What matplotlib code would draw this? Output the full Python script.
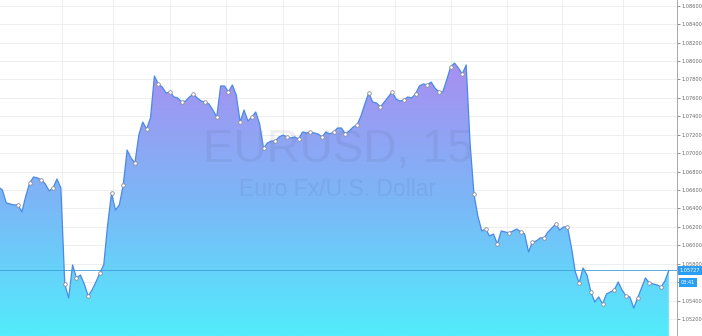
import numpy as np
import matplotlib
matplotlib.use('Agg')
import matplotlib.pyplot as plt
from matplotlib.colors import LinearSegmentedColormap
from matplotlib.path import Path

# ---------------- data ----------------
prices = [
    1.06633, 1.06600, 1.06459, 1.06449, 1.06438, 1.06438, 1.06362, 1.06535, 1.06676, 1.06742,
    1.06731, 1.06709, 1.06666, 1.06590, 1.06622, 1.06720, 1.06622, 1.05581, 1.05429, 1.05787,
    1.05646, 1.05678, 1.05581, 1.05450, 1.05515, 1.05602, 1.05700, 1.05787, 1.06221, 1.06568,
    1.06383, 1.06438, 1.06655, 1.07034, 1.06948, 1.06893, 1.07197, 1.07338, 1.07262, 1.07382,
    1.07837, 1.07751, 1.07718, 1.07653, 1.07664, 1.07610, 1.07599, 1.07555, 1.07566, 1.07610,
    1.07642, 1.07599, 1.07566, 1.07555, 1.07534, 1.07468, 1.07393, 1.07729, 1.07729, 1.07664,
    1.07740, 1.07631, 1.07338, 1.07468, 1.07349, 1.07393, 1.07447, 1.07317, 1.07056, 1.07110,
    1.07132, 1.07132, 1.07176, 1.07197, 1.07176, 1.07165, 1.07176, 1.07154, 1.07230, 1.07219,
    1.07230, 1.07219, 1.07208, 1.07176, 1.07230, 1.07208, 1.07230, 1.07273, 1.07273, 1.07208,
    1.07241, 1.07284, 1.07306, 1.07403, 1.07534, 1.07653, 1.07555, 1.07544, 1.07501, 1.07555,
    1.07610, 1.07664, 1.07588, 1.07566, 1.07577, 1.07610, 1.07599, 1.07642, 1.07729, 1.07751,
    1.07740, 1.07772, 1.07707, 1.07664, 1.07664, 1.07794, 1.07935, 1.07978, 1.07924, 1.07859,
    1.07957, 1.07110, 1.06557, 1.06318, 1.06156, 1.06177, 1.06101, 1.06123, 1.06015, 1.06156,
    1.06145, 1.06134, 1.06156, 1.06177, 1.06145, 1.06123, 1.05928, 1.06036, 1.06047, 1.06080,
    1.06080, 1.06145, 1.06188, 1.06232, 1.06166, 1.06199, 1.06199, 1.05982, 1.05711, 1.05591,
    1.05754, 1.05678, 1.05494, 1.05385, 1.05440, 1.05364, 1.05472, 1.05494, 1.05515, 1.05602,
    1.05515, 1.05450, 1.05440, 1.05320, 1.05429, 1.05537, 1.05646, 1.05591, 1.05581, 1.05570,
    1.05548, 1.05613, 1.05727,
]
marker_start = 5
marker_step = 3
last_price = 1.05727
last_price_label = "1.05727"
countdown_label = "03:41"
symbol_label = "EURUSD, 15"
description_label = "Euro Fx/U.S. Dollar"
price_ticks = [1.05200, 1.05400, 1.05600, 1.05800, 1.06000, 1.06200, 1.06400, 1.06600, 1.06800,
               1.07000, 1.07200, 1.07400, 1.07600, 1.07800, 1.08000, 1.08200, 1.08400, 1.08600]
time_grid_bars = [16.3, 29.4, 44.0, 58.4, 73.0, 87.1, 101.7, 116.1, 130.5, 144.6, 160.3]

# ---------------- figure ----------------
W, H = 702, 336
fig = plt.figure(figsize=(W / 100, H / 100), dpi=100)
fig.patch.set_facecolor('white')
ax = fig.add_axes([0, 0, 677 / W, 1])
ax.set_facecolor('white')

x = np.arange(len(prices))
y = np.array(prices)
xmin, xmax = 0.38, 174.1
ybot, ytop = 1.05016, 1.08662
ax.set_xlim(xmin, xmax)
ax.set_ylim(ybot, ytop)

# grid
for t in price_ticks:
    ax.axhline(t, color='#ebebeb', lw=0.6, zorder=0)
for g in time_grid_bars:
    ax.axvline(g, color='#ebebeb', lw=0.6, zorder=0)

# gradient area
cmap = LinearSegmentedColormap.from_list('tv', [(0.0, '#52ecfc'), (0.45, '#7ab8f7'), (1.0, '#ad8af0')])
grad = np.linspace(0, 1, 256).reshape(-1, 1)
poly = ax.fill_between(x, y, ybot, color='none', lw=0)
im = ax.imshow(grad, extent=[xmin, xmax, ybot, 1.0815], origin='lower', aspect='auto',
               cmap=cmap, zorder=1, interpolation='bilinear')
verts = np.vstack([np.column_stack([x, y]), [[x[-1], ybot], [x[0], ybot]]])
im.set_clip_path(Path(verts), transform=ax.transData)

ax.plot(x, y, color='#4a8ae6', lw=0.9, zorder=3)
ax.plot(x[marker_start::marker_step], y[marker_start::marker_step], 'o', ms=2.6,
        mfc='white', mec='#8a8a9a', mew=0.6, zorder=4)

# watermark
ax.text(0.499, 0.555, symbol_label, transform=ax.transAxes, ha='center', va='center',
        fontsize=33, color='#3c3c64', alpha=0.08, family='Liberation Sans', zorder=2)
ax.text(0.499, 0.435, description_label, transform=ax.transAxes, ha='center', va='center',
        fontsize=16.5, color='#3c3c64', alpha=0.08, family='Liberation Sans', zorder=2)

# last price line
ax.axhline(last_price, color='#3d9bd6', lw=0.7, alpha=0.85, zorder=5)

# right axis (labels hidden where the countdown box covers them, as in the reference)
ax.yaxis.tick_right()
ax.set_yticks(price_ticks)
ax.set_yticklabels(["" if (last_price - 0.0019 < t < last_price - 0.0005) else f"{t:.5f}"
                    for t in price_ticks])
ax.tick_params(axis='y', labelsize=3.6, colors='#666666', length=2, width=0.5, pad=1.5)
ax.set_xticks([])
for s in ['top', 'left', 'bottom']:
    ax.spines[s].set_visible(False)
ax.spines['right'].set_color('#9a9a9a')
ax.spines['right'].set_linewidth(0.6)

# price label boxes
ax.text(1.004, last_price, last_price_label, transform=ax.get_yaxis_transform(),
        ha='left', va='center', fontsize=3.6, color='white', zorder=10, clip_on=False,
        bbox=dict(boxstyle='square,pad=0.4', fc='#2a9df4', ec='none'))
ax.text(1.006, last_price - 0.00128, countdown_label, transform=ax.get_yaxis_transform(),
        ha='left', va='center', fontsize=3.6, color='white', zorder=10, clip_on=False,
        bbox=dict(boxstyle='square,pad=0.4', fc='#2a9df4', ec='none'))

fig.savefig('out.png', dpi=100)
